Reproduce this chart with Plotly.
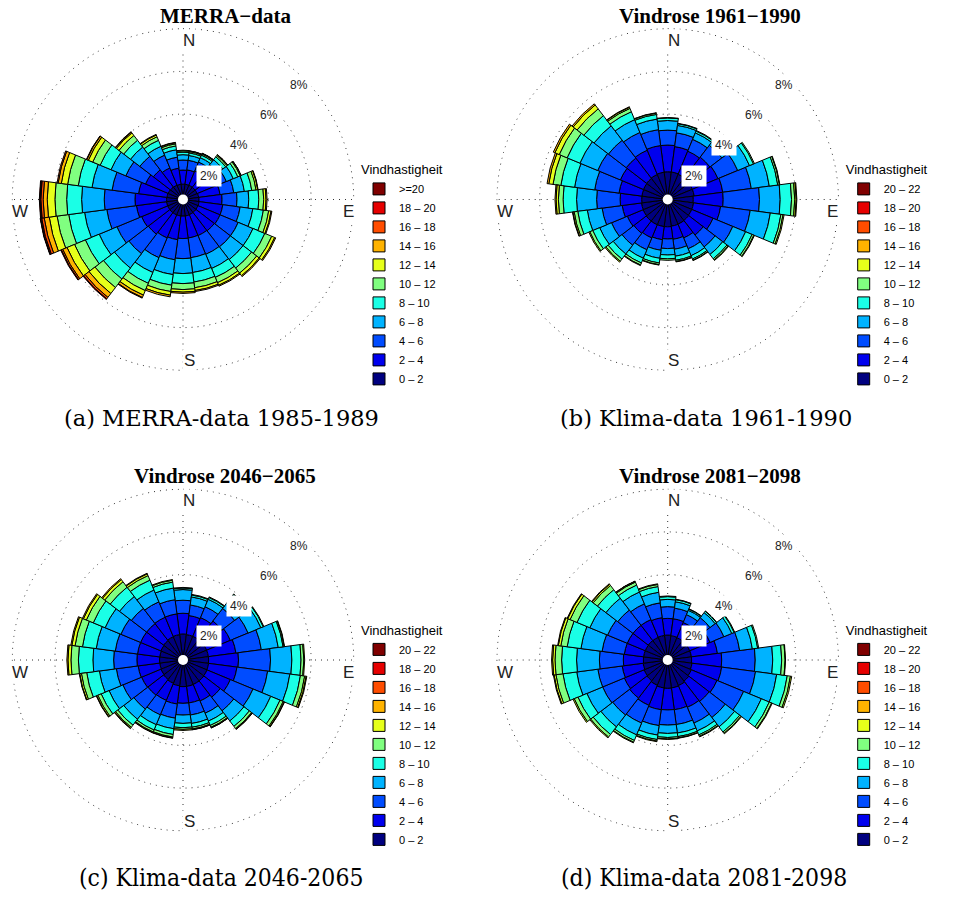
import numpy as np
import plotly.graph_objects as go

W, H = 956, 897

# Wind directions (degrees, clockwise from north), one sector every 15 degrees
directions = list(range(0, 360, 15))

# Speed classes (m/s), from calmest to strongest
speed_labels_merra = ["0 – 2", "2 – 4", "4 – 6", "6 – 8", "8 – 10", "10 – 12",
                      "12 – 14", "14 – 16", "16 – 18", "18 – 20", ">=20"]
speed_labels_klima = ["0 – 2", "2 – 4", "4 – 6", "6 – 8", "8 – 10", "10 – 12",
                      "12 – 14", "14 – 16", "16 – 18", "18 – 20", "20 – 22"]

# Cumulative frequency (%) at the upper edge of each speed class, per direction.
# Classes not listed for a direction have zero frequency.
merra_cum = [
    [0.72, 1.38, 1.85, 2.10, 2.22, 2.28, 2.31],
    [0.72, 1.40, 1.85, 2.08, 2.20, 2.26, 2.29, 2.30],
    [0.72, 1.45, 1.90, 2.12, 2.25, 2.31, 2.34, 2.35],
    [0.72, 1.55, 2.05, 2.35, 2.52, 2.60, 2.64, 2.65],
    [0.72, 1.65, 2.20, 2.55, 2.78, 2.90, 2.94, 2.95],
    [0.74, 1.75, 2.40, 2.90, 3.25, 3.45, 3.53, 3.55],
    [0.75, 1.83, 2.53, 3.08, 3.55, 3.78, 3.89, 3.94],
    [0.76, 1.88, 2.70, 3.30, 3.80, 4.05, 4.16, 4.20],
    [0.76, 1.88, 2.80, 3.55, 4.15, 4.50, 4.65, 4.70],
    [0.77, 1.85, 2.80, 3.55, 4.05, 4.35, 4.50, 4.55],
    [0.77, 1.83, 2.78, 3.50, 3.95, 4.22, 4.35, 4.40],
    [0.78, 1.82, 2.75, 3.45, 3.90, 4.17, 4.30, 4.35],
    [0.78, 1.83, 2.77, 3.47, 3.94, 4.22, 4.34, 4.40],
    [0.78, 1.90, 2.85, 3.55, 4.05, 4.35, 4.52, 4.60],
    [0.78, 1.95, 2.95, 3.70, 4.25, 4.62, 4.85, 4.97, 5.00],
    [0.78, 2.05, 3.20, 4.05, 4.70, 5.20, 5.55, 5.78, 5.87, 5.90],
    [0.78, 2.10, 3.35, 4.25, 4.95, 5.50, 5.88, 6.10, 6.17, 6.20],
    [0.78, 2.20, 3.60, 4.65, 5.40, 5.95, 6.32, 6.56, 6.68, 6.73, 6.75],
    [0.77, 2.25, 3.69, 4.75, 5.45, 6.00, 6.36, 6.55, 6.66, 6.70, 6.73],
    [0.76, 2.10, 3.35, 4.30, 4.95, 5.45, 5.75, 5.90, 5.95],
    [0.75, 1.90, 2.90, 3.65, 4.20, 4.58, 4.80, 4.88, 4.90],
    [0.74, 1.75, 2.55, 3.10, 3.50, 3.78, 3.93, 3.98, 4.00],
    [0.73, 1.60, 2.25, 2.70, 3.00, 3.18, 3.27, 3.30],
    [0.72, 1.48, 2.00, 2.35, 2.53, 2.63, 2.68, 2.70],
]

klima_1961_cum = [
    [1.30, 2.55, 3.25, 3.70, 3.82, 3.84],
    [1.30, 2.50, 3.15, 3.50, 3.58, 3.60],
    [1.28, 2.45, 3.05, 3.38, 3.47, 3.50],
    [1.27, 2.50, 3.20, 3.58, 3.67, 3.70],
    [1.25, 2.55, 3.55, 4.15, 4.35, 4.40],
    [1.25, 2.60, 3.95, 4.80, 5.20, 5.28, 5.30],
    [1.20, 2.60, 4.30, 5.27, 5.80, 5.95, 6.02, 6.05],
    [1.22, 2.50, 3.90, 4.85, 5.35, 5.45, 5.50],
    [1.22, 2.30, 3.30, 3.95, 4.28, 4.37, 4.40],
    [1.24, 2.10, 2.80, 3.25, 3.50, 3.57, 3.60],
    [1.25, 1.95, 2.50, 2.85, 3.02, 3.08, 3.10],
    [1.26, 1.88, 2.35, 2.68, 2.87, 2.93, 2.95],
    [1.28, 1.85, 2.30, 2.60, 2.78, 2.85],
    [1.28, 1.90, 2.40, 2.78, 3.00, 3.08, 3.10],
    [1.28, 1.95, 2.55, 2.98, 3.22, 3.32, 3.35],
    [1.27, 2.00, 2.70, 3.22, 3.52, 3.65, 3.70],
    [1.25, 2.05, 2.85, 3.45, 3.80, 3.95, 4.00],
    [1.24, 2.15, 3.10, 3.80, 4.25, 4.42, 4.48, 4.50],
    [1.22, 2.23, 3.33, 4.27, 4.90, 5.12, 5.23, 5.28],
    [1.22, 2.30, 3.45, 4.40, 5.05, 5.42, 5.62, 5.70],
    [1.23, 2.40, 3.55, 4.45, 5.10, 5.50, 5.72, 5.80],
    [1.25, 2.45, 3.50, 4.35, 4.95, 5.35, 5.58, 5.65],
    [1.27, 2.50, 3.40, 4.05, 4.45, 4.62, 4.68, 4.70],
    [1.29, 2.55, 3.30, 3.80, 4.02, 4.08, 4.10],
]

klima_2046_cum = [
    [1.22, 2.19, 2.80, 3.30, 3.37, 3.40],
    [1.20, 2.10, 2.60, 2.98, 3.07, 3.10],
    [1.20, 2.15, 2.70, 3.08, 3.17, 3.20],
    [1.20, 2.30, 3.05, 3.70, 3.86, 3.90],
    [1.20, 2.40, 3.30, 3.95, 4.07, 4.10],
    [1.20, 2.50, 3.70, 4.50, 4.73, 4.78, 4.80],
    [1.20, 2.60, 4.10, 5.10, 5.53, 5.66, 5.70],
    [1.21, 2.55, 4.00, 5.05, 5.55, 5.75, 5.82, 5.85],
    [1.22, 2.40, 3.55, 4.45, 4.92, 5.08, 5.13, 5.15],
    [1.23, 2.20, 3.00, 3.60, 3.92, 4.05, 4.08, 4.10],
    [1.24, 2.08, 2.70, 3.10, 3.32, 3.41, 3.44, 3.45],
    [1.25, 2.03, 2.60, 3.00, 3.18, 3.26, 3.29, 3.30],
    [1.25, 2.03, 2.58, 2.97, 3.17, 3.25, 3.30],
    [1.22, 2.08, 2.75, 3.25, 3.52, 3.64, 3.68, 3.70],
    [1.18, 2.05, 2.78, 3.28, 3.55, 3.65, 3.68, 3.70],
    [1.15, 2.08, 2.90, 3.50, 3.85, 3.98, 4.03, 4.05],
    [1.12, 2.10, 3.05, 3.75, 4.15, 4.32, 4.38, 4.40],
    [1.10, 2.12, 3.15, 3.95, 4.55, 4.80, 4.88, 4.90],
    [1.10, 2.16, 3.25, 4.22, 4.90, 5.25, 5.39, 5.44],
    [1.10, 2.15, 3.20, 4.10, 4.75, 5.10, 5.25, 5.30],
    [1.12, 2.15, 3.15, 3.95, 4.55, 4.90, 5.05, 5.10],
    [1.15, 2.15, 3.05, 3.75, 4.30, 4.62, 4.75, 4.80],
    [1.18, 2.17, 2.95, 3.55, 4.05, 4.28, 4.37, 4.40],
    [1.20, 2.18, 2.85, 3.40, 3.68, 3.77, 3.80],
]

klima_2081_cum = [
    [1.17, 1.95, 2.50, 2.84, 2.97, 3.00],
    [1.15, 1.95, 2.45, 2.75, 2.85, 2.87],
    [1.13, 1.90, 2.30, 2.52, 2.58, 2.60],
    [1.12, 2.00, 2.50, 2.80, 2.88, 2.90],
    [1.12, 2.15, 2.85, 3.25, 3.37, 3.40],
    [1.12, 2.35, 3.40, 4.00, 4.25, 4.30],
    [1.12, 2.53, 4.10, 4.92, 5.34, 5.50, 5.52],
    [1.15, 2.55, 4.15, 5.15, 5.65, 5.80, 5.86],
    [1.20, 2.50, 3.85, 4.75, 5.15, 5.27, 5.30],
    [1.25, 2.45, 3.40, 3.95, 4.25, 4.33, 4.36],
    [1.30, 2.40, 3.20, 3.60, 3.80, 3.87, 3.90],
    [1.32, 2.35, 3.05, 3.45, 3.62, 3.68, 3.70],
    [1.33, 2.34, 3.05, 3.44, 3.63, 3.70, 3.72],
    [1.32, 2.35, 3.10, 3.55, 3.76, 3.83, 3.86],
    [1.28, 2.30, 3.20, 3.80, 4.08, 4.17, 4.20],
    [1.23, 2.25, 3.25, 3.95, 4.40, 4.55, 4.60],
    [1.20, 2.20, 3.30, 4.10, 4.55, 4.74, 4.80],
    [1.16, 2.15, 3.30, 4.30, 4.95, 5.28, 5.37, 5.40],
    [1.14, 2.08, 3.20, 4.27, 4.97, 5.28, 5.39, 5.44],
    [1.14, 2.05, 3.10, 4.10, 4.75, 5.05, 5.17, 5.20],
    [1.14, 2.05, 3.05, 3.95, 4.60, 4.95, 5.07, 5.10],
    [1.15, 2.05, 2.95, 3.65, 4.15, 4.40, 4.47, 4.50],
    [1.15, 2.05, 2.85, 3.45, 3.80, 3.95, 3.99, 4.00],
    [1.16, 2.00, 2.70, 3.20, 3.47, 3.57, 3.60],
]

ring_values = [2, 4, 6, 8]
ring_labels = ["2%", "4%", "6%", "8%"]

# jet colour scale sampled once per speed class
speed_colors = ["#000080", "#0000EE", "#004CFF", "#00B3FF", "#1AFFE6", "#80FF80",
                "#E6FF1A", "#FFB300", "#FF4D00", "#E60000", "#800000"]

SANS = "Liberation Sans, Arial, sans-serif"
SERIF_BOLD = "Liberation Serif, Times New Roman, serif"
GRID_COLOR = "#333333"
GRID_DASH = "1px,5px"


def class_frequencies(cum_rows, n_classes):
    """Turn cumulative frequencies into per-class frequencies (directions x classes)."""
    out = np.zeros((len(cum_rows), n_classes))
    for i, row in enumerate(cum_rows):
        full = list(row) + [row[-1]] * (n_classes - len(row))
        out[i] = np.diff([0.0] + full)
    return out


panels = [
    dict(cum=merra_cum, labels=speed_labels_merra, title="MERRA−data",
         caption="(a) MERRA-data 1985-1989", cx=183.0, cy=199.5,
         cap_font="DejaVu Serif", cap_size=22.5, cap_x=221, cap_y=418),
    dict(cum=klima_1961_cum, labels=speed_labels_klima, title="Vindrose 1961−1990",
         caption="(b) Klima-data 1961-1990", cx=667.7, cy=199.5,
         cap_font="DejaVu Serif", cap_size=22.5, cap_x=706, cap_y=418),
    dict(cum=klima_2046_cum, labels=speed_labels_klima, title="Vindrose 2046−2065",
         caption="(c) Klima-data 2046-2065", cx=183.0, cy=660.0,
         cap_font="DejaVu Serif Condensed, DejaVu Serif", cap_size=24.5, cap_x=221, cap_y=877),
    dict(cum=klima_2081_cum, labels=speed_labels_klima, title="Vindrose 2081−2098",
         caption="(d) Klima-data 2081-2098", cx=667.7, cy=660.0,
         cap_font="DejaVu Serif Condensed, DejaVu Serif", cap_size=24.5, cap_x=704, cap_y=877),
]

PX_PER_PCT = 21.35     # pixel length of 1 % on every rose
R_MAX = 8.04           # radial range slightly past the 8 % ring
R_PX = R_MAX * PX_PER_PCT
ring_theta = list(range(0, 361, 2))

fig = go.Figure()
annotations = []
layout_extra = {}


def px(x, y):
    return x / W, 1 - y / H


def text_note(x, y, text, font, **kw):
    ax, ay = px(x, y)
    d = dict(x=ax, y=ay, xref="paper", yref="paper", text=text, showarrow=False,
             xanchor="center", yanchor="middle", font=font)
    d.update(kw)
    annotations.append(d)


for k, p in enumerate(panels):
    polar_name = "polar" if k == 0 else f"polar{k + 1}"
    legend_name = "legend" if k == 0 else f"legend{k + 1}"
    freqs = class_frequencies(p["cum"], len(p["labels"]))

    # outer 8 % circle, dotted like the other rings
    fig.add_trace(go.Scatterpolar(
        r=[ring_values[-1]] * len(ring_theta), theta=ring_theta, mode="lines",
        subplot=polar_name, showlegend=False, hoverinfo="skip",
        line=dict(color=GRID_COLOR, width=1, dash=GRID_DASH),
    ))

    for j, label in enumerate(p["labels"]):
        fig.add_trace(go.Barpolar(
            r=freqs[:, j], theta=directions, width=15,
            name=label, subplot=polar_name, legend=legend_name,
            marker=dict(color=speed_colors[j], line=dict(color="black", width=1)),
            hoverinfo="skip",
        ))
    # white calm circle in the middle
    fig.add_trace(go.Scatterpolar(
        r=[0], theta=[0], mode="markers", subplot=polar_name, showlegend=False,
        marker=dict(color="white", size=10, line=dict(width=0)), hoverinfo="skip",
    ))

    cx, cy = p["cx"], p["cy"]
    x0, y1 = px(cx - R_PX, cy - R_PX)
    x1, y0 = px(cx + R_PX, cy + R_PX)
    grid = dict(gridcolor=GRID_COLOR, griddash=GRID_DASH, gridwidth=1)
    layout_extra[polar_name] = dict(
        domain=dict(x=[x0, x1], y=[y0, y1]),
        bgcolor="rgba(0,0,0,0)",
        barmode="stack", bargap=0,
        radialaxis=dict(range=[0, R_MAX], tickvals=ring_values, showticklabels=False,
                        ticks="", showline=False, layer="below traces", **grid),
        angularaxis=dict(rotation=90, direction="clockwise", tickvals=[0, 90, 180, 270],
                         showticklabels=False, ticks="", showline=False,
                         layer="below traces", **grid),
    )

    lx, ly = px(cx + 176, cy - 42)
    layout_extra[legend_name] = dict(
        x=lx, y=ly, xanchor="left", yanchor="top", traceorder="reversed",
        bgcolor="rgba(0,0,0,0)", borderwidth=0,
        font=dict(family=SANS, size=11, color="black"),
        title=dict(text="Vindhastigheit", font=dict(family=SANS, size=13, color="black")),
        itemclick=False, itemdoubleclick=False,
    )

    # compass letters
    for txt, dx, dy in [("N", 6, -159), ("S", 6, 161), ("E", 165, 12), ("W", -163, 12)]:
        text_note(cx + dx, cy + dy, txt, dict(family=SANS, size=17, color="#222222"),
                  bgcolor="white")
    # percentage ring labels along the north-east diagonal
    for val, lab in zip(ring_values, ring_labels):
        rr = val * PX_PER_PCT - 9
        text_note(cx + rr * np.sqrt(0.5) + 2, cy - rr * np.sqrt(0.5), lab,
                  dict(family=SANS, size=12, color="#222222"), bgcolor="white", borderpad=3)
    # panel title
    text_note(cx + 42, cy - 184, f"<b>{p['title']}</b>",
              dict(family=SERIF_BOLD, size=21, color="black"))
    # caption
    text_note(p["cap_x"], p["cap_y"], p["caption"],
              dict(family=p["cap_font"], size=p["cap_size"], color="black"))

fig.update_layout(
    width=W, height=H, margin=dict(l=0, r=0, t=0, b=0),
    paper_bgcolor="white", plot_bgcolor="white",
    showlegend=True, annotations=annotations, **layout_extra,
)

fig.write_html("out.html")
